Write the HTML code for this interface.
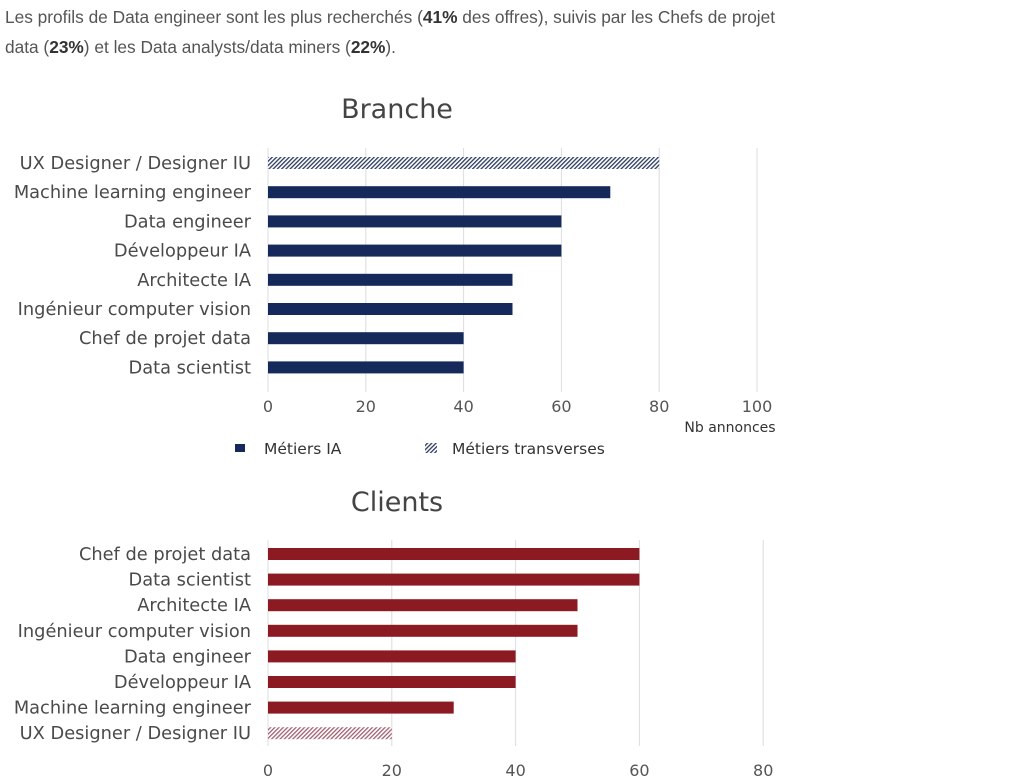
<!DOCTYPE html>
<html><head><meta charset="utf-8">
<style>
body{margin:0;background:#fff;width:1022px;height:782px;overflow:hidden;}
#intro{position:absolute;left:5px;top:2px;width:805px;font-family:"Liberation Sans",sans-serif;font-size:17.3px;line-height:30px;color:#555;}
#intro b{color:#333;}
svg{position:absolute;left:0;top:0;}
</style></head><body>
<div id="intro">Les profils de Data engineer sont les plus recherchés (<b>41%</b> des offres), suivis par les Chefs de projet data (<b>23%</b>) et les Data analysts/data miners (<b>22%</b>).</div>
<svg id="chart" width="1022" height="782">
<defs>
<pattern id="hatchBlue" width="3" height="3" patternUnits="userSpaceOnUse" patternTransform="rotate(45)"><rect width="3" height="3" fill="#fff"/><rect width="1.3" height="3" fill="#2b3a5e"/></pattern>
<pattern id="hatchRed" width="3" height="3" patternUnits="userSpaceOnUse" patternTransform="rotate(45)"><rect width="3" height="3" fill="#fff"/><rect width="1.3" height="3" fill="#a06070"/></pattern>
</defs>
</svg>
<script>
const branchCats=["UX Designer / Designer IU","Machine learning engineer","Data engineer","Développeur IA","Architecte IA","Ingénieur computer vision","Chef de projet data","Data scientist"];
const branchVals=[80,70,60,60,50,50,40,40];
const branchHatch=[true,false,false,false,false,false,false,false];
const branchTicks=[0,20,40,60,80,100];
const clientCats=["Chef de projet data","Data scientist","Architecte IA","Ingénieur computer vision","Data engineer","Développeur IA","Machine learning engineer","UX Designer / Designer IU"];
const clientVals=[60,60,50,50,40,40,30,20];
const clientHatch=[false,false,false,false,false,false,false,true];
const clientTicks=[0,20,40,60,80];

const svg=document.getElementById('chart');
const NS='http://www.w3.org/2000/svg';
function mk(tag,attrs,parent){const e=document.createElementNS(NS,tag);for(const k in attrs)e.setAttribute(k,attrs[k]);(parent||svg).appendChild(e);return e;}
function txt(s,attrs){const t=mk('text',Object.assign({'font-family':'"DejaVu Sans",Verdana,sans-serif','font-size':'16','fill':'#4a4a4a'},attrs));t.textContent=s;return t;}

function drawChart(o){
  const g=mk('g',{});
  
  
  const xs=v=>o.x0+v*o.pxPer;
  const ys=i=>o.y0+i*o.step;
  const tt=txt(o.title,{x:397,y:o.titleY,'text-anchor':'middle','font-size':'27','fill':'#444'});
  
  
  o.ticks.forEach(t=>{
    const l=mk('line',{x1:xs(t),x2:xs(t),y1:o.gridTop,y2:o.gridBot,stroke:'#dcdcdc','stroke-width':1},g);
    
    
    const tl=txt(String(t),{x:xs(t),y:o.tickY,'text-anchor':'middle','fill':'#555'});
    
    
  });
  o.cats.forEach((c,i)=>{
    const lab=txt(c,{x:251,y:ys(i)+6,'text-anchor':'end','font-size':'17.8'});
    
    
    const b=mk('rect',{x:xs(0),y:ys(i)-6,width:xs(o.vals[i])-xs(0),height:12,fill:o.hatch[i]?o.hatchFill:o.color},g);
    
    
  });
}
drawChart({name:'branche-chart',title:'Branche',titleY:118,x0:268,pxPer:4.89,y0:163,step:29.2,gridTop:148,gridBot:392,tickY:412,ticks:branchTicks,cats:branchCats,vals:branchVals,hatch:branchHatch,color:'#15295a',hatchFill:'url(#hatchBlue)'});
drawChart({name:'clients-chart',title:'Clients',titleY:511,x0:268,pxPer:6.19,y0:554,step:25.6,gridTop:540,gridBot:746,tickY:776,ticks:clientTicks,cats:clientCats,vals:clientVals,hatch:clientHatch,color:'#8b1a22',hatchFill:'url(#hatchRed)'});

const at=txt('Nb annonces',{x:730,y:432,'text-anchor':'middle','font-size':'14','fill':'#333'});


const l1=mk('rect',{x:235,y:444,width:10,height:8,fill:'#15295a'});


const lt1=txt('Métiers IA',{x:264,y:454,'font-size':'15.5','fill':'#333'});


const l2=mk('rect',{x:425,y:443,width:12,height:10,fill:'url(#hatchBlue)'});


const lt2=txt('Métiers transverses',{x:452,y:454,'font-size':'15.5','fill':'#333'});


</script>
</body></html>
